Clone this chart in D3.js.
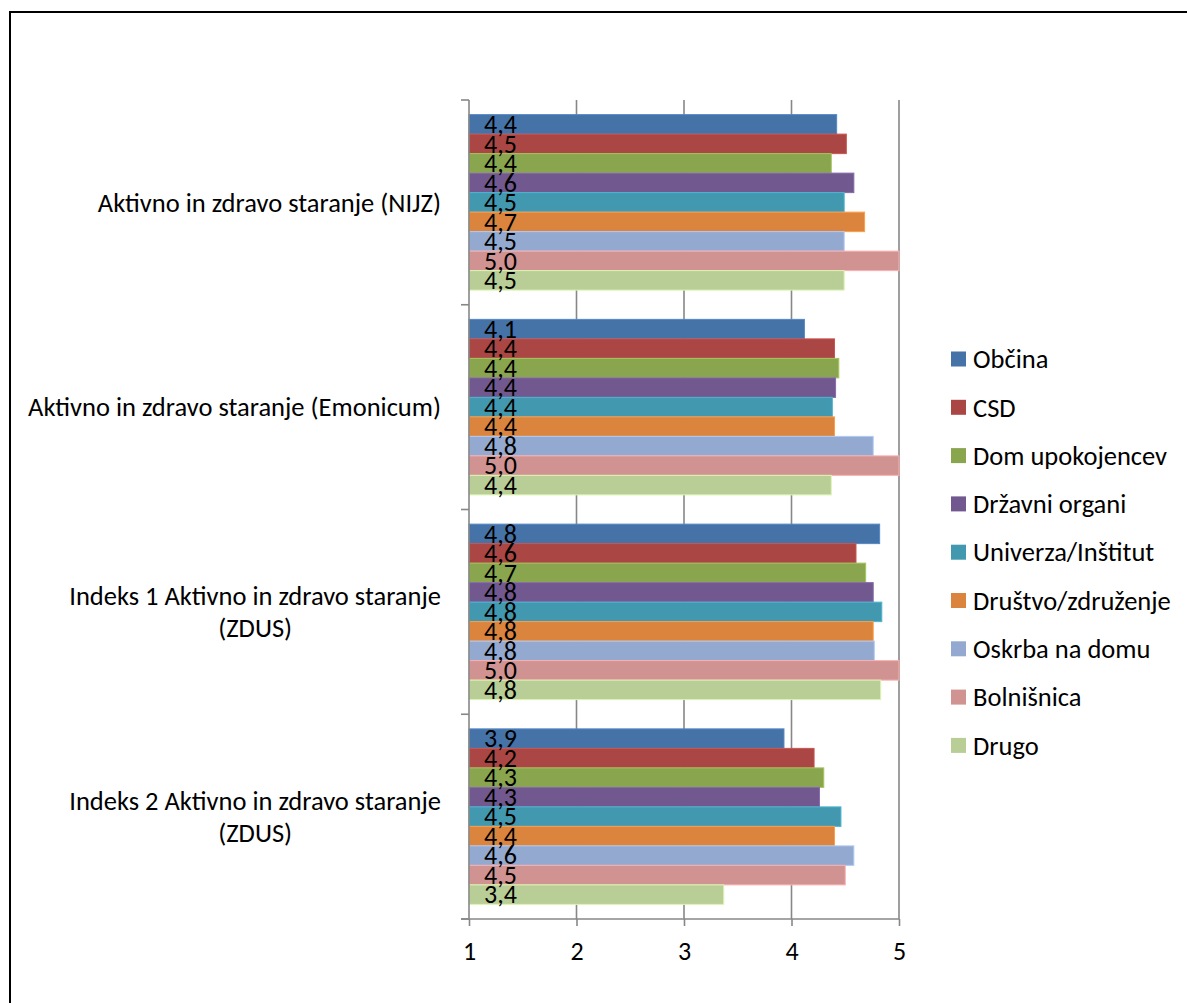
<!DOCTYPE html>
<html>
<head>
<meta charset="utf-8">
<script src="https://cdn.jsdelivr.net/npm/d3@7"></script>
<style>
  html, body { margin: 0; padding: 0; background: #fff; }
  svg { display: block; }
  text { font-family: Carlito, Calibri, Lato, "Open Sans", sans-serif; fill: #000; }
</style>
</head>
<body>
<svg id="chart" width="1187" height="1003"></svg>
<script>
// ---------- DATA ----------
const categories = [
  "Aktivno in zdravo staranje (NIJZ)",
  "Aktivno in zdravo staranje (Emonicum)",
  "Indeks 1 Aktivno in zdravo staranje\n(ZDUS)",
  "Indeks 2 Aktivno in zdravo staranje\n(ZDUS)"
];
const seriesNames = ["Občina", "CSD", "Dom upokojencev", "Državni organi",
  "Univerza/Inštitut", "Društvo/združenje", "Oskrba na domu", "Bolnišnica", "Drugo"];
const seriesColors = ["#4572A7", "#AA4643", "#89A54E", "#71588F",
  "#4198AF", "#DB843D", "#93A9CF", "#D19392", "#B9CD96"];

// values per series, one per category (in category order)
const obcina     = [4.42, 4.12, 4.82, 3.93];
const csd        = [4.51, 4.40, 4.60, 4.21];
const dom        = [4.37, 4.44, 4.69, 4.30];
const drzavni    = [4.58, 4.41, 4.76, 4.26];
const univerza   = [4.49, 4.38, 4.84, 4.46];
const drustvo    = [4.68, 4.40, 4.76, 4.40];
const oskrba     = [4.49, 4.76, 4.77, 4.58];
const bolnisnica = [5.00, 5.00, 5.00, 4.50];
const drugo      = [4.49, 4.37, 4.83, 3.37];
const seriesValues = [obcina, csd, dom, drzavni, univerza, drustvo, oskrba, bolnisnica, drugo];

const xTicks = [1, 2, 3, 4, 5];

// ---------- LAYOUT ----------
const svg = d3.select("#chart");
const W = 1187, H = 1003;
const plot = { left: 469, right: 899, top: 100, bottom: 919 };
const gridColor = "#878787";
const FONT = 26.5;

svg.append("rect").attr("width", W).attr("height", H).attr("fill", "#fff");
// chart frame (extends beyond the window on the right / bottom)
svg.append("rect")
  .attr("x", 10).attr("y", 12).attr("width", W + 50).attr("height", H + 50)
  .attr("fill", "none").attr("stroke", "#000").attr("stroke-width", 2);

const x = d3.scaleLinear().domain([1, 5]).range([plot.left, plot.right]);
const y = d3.scaleBand().domain(categories).range([plot.top, plot.bottom]).padding(0);
const yInner = d3.scaleBand().domain(seriesNames).range([0, y.bandwidth()])
  .paddingInner(0).paddingOuter(0.75);

// gridlines
svg.append("g").selectAll("line").data(xTicks.slice(1)).join("line")
  .attr("x1", d => x(d)).attr("x2", d => x(d))
  .attr("y1", plot.top).attr("y2", plot.bottom)
  .attr("stroke", gridColor).attr("stroke-width", 1.6);

// bars
const fmt = v => v.toFixed(1).replace(".", ",");
const gCat = svg.append("g").selectAll("g").data(categories).join("g")
  .attr("transform", d => `translate(0,${y(d)})`);

gCat.each(function (cat, ci) {
  const g = d3.select(this);
  const rows = seriesNames.map((s, si) => ({ s, si, v: seriesValues[si][ci] }));
  g.selectAll("rect").data(rows).join("rect")
    .attr("x", x(1))
    .attr("y", d => yInner(d.s))
    .attr("width", d => x(d.v) - x(1))
    .attr("height", yInner.bandwidth())
    .attr("fill", d => seriesColors[d.si])
    .attr("stroke", d => d3.color(seriesColors[d.si]).brighter(0.5))
    .attr("stroke-width", 1);
  g.selectAll("text").data(rows).join("text")
    .attr("x", x(1) + 15)
    .attr("y", d => yInner(d.s) + yInner.bandwidth() - 1)
    .attr("font-size", 26)
    .text(d => fmt(d.v));
});

// x axis
const xAxis = d3.axisBottom(x).tickValues(xTicks).tickSize(7).tickPadding(16)
  .tickFormat(d3.format("d"));
const gx = svg.append("g").attr("transform", `translate(0,${plot.bottom})`).call(xAxis);
gx.select(".domain").attr("stroke", gridColor).attr("stroke-width", 1.6)
  .attr("d", `M${plot.left - 8},0H${plot.right}`);
gx.selectAll(".tick line").attr("stroke", gridColor).attr("stroke-width", 1.6);
gx.selectAll(".tick text").attr("font-size", 26).attr("fill", "#000")
  .style("font-family", "Carlito, Calibri, Lato, sans-serif");

// y axis
const catBounds = categories.map(c => y(c)).concat([plot.bottom]);
const gy = svg.append("g");
gy.append("line").attr("x1", plot.left).attr("x2", plot.left)
  .attr("y1", plot.top).attr("y2", plot.bottom)
  .attr("stroke", gridColor).attr("stroke-width", 1.6);
gy.selectAll(".ct").data(catBounds).join("line").attr("class", "ct")
  .attr("x1", plot.left - 8).attr("x2", plot.left)
  .attr("y1", d => d).attr("y2", d => d)
  .attr("stroke", gridColor).attr("stroke-width", 1.6);

// category labels (multi-line, centred block right-aligned to axis)
const lineH = 32;
categories.forEach(cat => {
  const lines = cat.split("\n");
  const t = svg.append("text").attr("font-size", FONT);
  const cy = y(cat) + y.bandwidth() / 2;
  lines.forEach((ln, i) => {
    t.append("tspan").text(ln)
      .attr("y", cy + (i - (lines.length - 1) / 2) * lineH)
      .attr("dy", "0.35em");
  });
  const widths = [];
  t.selectAll("tspan").each(function () { widths.push(this.getComputedTextLength()); });
  const maxW = d3.max(widths);
  const right = plot.left - 28;
  t.selectAll("tspan").attr("x", right - maxW / 2).attr("text-anchor", "middle");
});

// legend
const legend = svg.append("g").selectAll("g").data(seriesNames).join("g")
  .attr("transform", (d, i) => `translate(951,${359 + i * 48.3})`);
legend.append("rect").attr("x", 0).attr("y", -7.5).attr("width", 15).attr("height", 15)
  .attr("fill", (d, i) => seriesColors[i]);
legend.append("text").attr("x", 22).attr("y", 0).attr("dy", "0.35em")
  .attr("font-size", FONT).text(d => d);
</script>
</body>
</html>
